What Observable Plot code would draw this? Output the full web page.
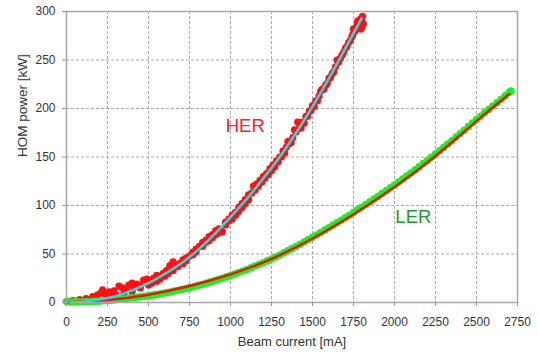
<!DOCTYPE html>
<html>
<head>
<meta charset="utf-8">
<script src="https://cdn.jsdelivr.net/npm/d3@7"></script>
<script src="https://cdn.jsdelivr.net/npm/@observablehq/plot@0.6"></script>
<style>
  html, body { margin: 0; padding: 0; background: #fff; }
  #chart svg { display: block; }
</style>
</head>
<body>
<div id="chart"></div>
<script>
// ---- Data ----
const xTicks = [0, 250, 500, 750, 1000, 1250, 1500, 1750, 2000, 2250, 2500, 2750];
const yTicks = [0, 50, 100, 150, 200, 250, 300];

// HER measured points (beam current mA, HOM power kW)
const herI = [20,40,60,80,100,120,140,160,170,190,210,220,240,260,270,290,300,320,340,360,380,400,410,430,450,470,490,510,530,550,570,590,610,630,650,670,690,710,730,750,770,790,810,830,850,870,890,910,930,950,970,990,1010,1030,1050,1070,1090,1110,1130,1140,1150,1160,1180,1200,1220,1240,1250,1260,1280,1300,1320,1340,1350,1360,1380,1390,1400,1410,1420,1440,1450,1460,1480,1500,1520,1540,1550,1560,1580,1600,1620,1640,1650,1660,1680,1700,1720,1740,1750,1760,1770,1780,1790,1795,1800,1805,1810,
  300,350,400,450,500,520,550,570,600,620,650,680,710,730,770,790,830,850,870,890,910,930,970,990,1010,1030,1050,1070,1090,1110,1170,1190,1210,1230,1270,1290,1310,1330,1370,1430,1470,1490,1510,1530,1570,1590,1610,1630,1670,1690,1710,1730,1745,1775,1785,1800];
const herP = [1,2,1,3,2,4,3,6,4,8,10,13,7,11,9,12,8,17,15,14,18,20,16,19,17,23,24,22,25,28,27,30,33,38,42,39,40,44,46,48,52,55,58,62,64,68,70,74,76,73,83,86,90,93,98,102,106,111,113,120,116,122,126,130,133,138,136,142,146,150,156,160,166,164,170,178,176,186,180,186,185,192,197,203,208,213,218,220,224,231,236,243,250,248,255,262,268,274,282,280,285,288,292,282,290,295,287,
  5,9,11,15,18,20,22,24,27,30,33,37,40,43,49,52,58,62,64,67,70,72,80,84,86,90,94,98,102,106,120,124,128,132,140,145,150,154,165,180,192,198,202,208,220,226,232,238,252,258,264,270,276,290,284,284];
const herFitI = [25,100,200,300,400,500,600,700,800,900,1000,1100,1200,1300,1400,1500,1600,1700,1800];
const herFitP = [0,0.8,3,6.5,12.5,20,29.5,40.5,54,70,88,107,128,150,175,202,231,262,293];

// LER measured points
const lerI = [0,25,50,75,100,125,150,175,200,225,250,275,300,325,350,375,400,425,450,475,500,525,550,575,600,625,650,675,700,725,750,775,800,825,850,875,900,925,950,975,1000,1025,1050,1075,1100,1125,1150,1175,1200,1225,1250,1275,1300,1325,1350,1375,1400,1425,1450,1475,1500,1525,1550,1575,1600,1625,1650,1675,1700,1725,1750,1775,1800,1825,1850,1875,1900,1925,1950,1975,2000,2025,2050,2075,2100,2125,2150,2175,2200,2225,2250,2275,2300,2325,2350,2375,2400,2425,2450,2475,2500,2525,2550,2575,2600,2625,2650,2675,2700,2710];
const lerP = [1,0.5,0.6,0.5,0.8,0.7,1.0,1.2,1.3,1.8,2.0,2.4,2.8,3.3,3.6,4.4,4.8,5.3,5.8,6.5,6.8,7.6,8.2,9.0,9.8,10.5,11.6,12.3,13.4,14.2,15.3,16.3,17.6,18.5,19.9,21.0,22.3,23.6,25.0,26.4,27.8,29.3,30.8,32.4,34.0,35.7,37.6,39.2,41.0,42.9,44.8,46.9,49.0,51.2,53.3,55.5,57.8,60.1,62.4,64.9,67.2,69.6,72.2,74.6,77.1,79.6,82.2,84.8,87.3,90.0,92.8,95.5,98.2,101.0,103.8,106.7,109.4,112.4,115.3,118.2,121.0,124.1,127.3,130.4,133.5,136.6,139.9,143.2,146.4,149.7,153.0,156.5,159.9,163.4,166.8,170.5,174.0,177.6,181.3,185.0,188.6,192.0,195.5,198.9,202.6,206.0,209.6,213.0,216.5,218];
const lerFitI = [0,250,500,750,1000,1250,1500,1750,2000,2250,2500,2700];
const lerFitP = [0,2.5,8,17,29,45,66,91,119,151,187,215];

const seriesNames = ["HER", "LER"];
const labelI = [1090, 2115];
const labelP = [182, 88];

// ---- Tables for the library ----
const her = herI.map((v, i) => ({I: v, P: herP[i]}));
const herFit = herFitI.map((v, i) => ({I: v, P: herFitP[i]}));
const ler = lerI.map((v, i) => ({I: v, P: lerP[i]}));
const lerFit = lerFitI.map((v, i) => ({I: v, P: lerFitP[i]}));
const labels = seriesNames.map((n, i) => ({name: n, I: labelI[i], P: labelP[i]}));

const font = "'Liberation Sans', Arial, sans-serif";
const gridStyle = {stroke: "#aaaaaa", strokeOpacity: 1, strokeDasharray: "3,2", strokeWidth: 1};

const chart = Plot.plot({
  width: 539,
  height: 355,
  marginLeft: 66,
  marginRight: 22,
  marginTop: 11,
  marginBottom: 53,
  style: {fontFamily: font, fontSize: "12px", background: "#fff", color: "#333"},
  x: {domain: [0, 2750]},
  y: {domain: [0, 300]},
  marks: [
    Plot.gridX(xTicks.slice(1, -1), gridStyle),
    Plot.gridY(yTicks.slice(1, -1), gridStyle),
    Plot.dot(her, {x: "I", y: "P", r: 3.6, fill: "#ff1010", stroke: "none"}),
    Plot.dot(ler, {x: "I", y: "P", r: 3.8, fill: "#22ee22", stroke: "none"}),
    Plot.line(lerFit, {x: "I", y: "P", stroke: "#e8141a", strokeWidth: 2.5, curve: "natural"}),
    Plot.line(herFit, {x: "I", y: "P", stroke: "#2ad8e6", strokeWidth: 2.6, curve: "natural"}),
    Plot.frame({stroke: "#a8a8a8", strokeWidth: 1.5}),
    Plot.axisX(xTicks, {tickSize: 4, tickPadding: 11, fontSize: 12, stroke: "#999", fill: "#333", label: null, tickFormat: d3.format("d")}),
    Plot.axisY(yTicks, {tickSize: 4, tickPadding: 7, fontSize: 12, stroke: "#999", fill: "#333", label: null, tickFormat: d3.format("d")}),
    Plot.text(["Beam current [mA]"], {frameAnchor: "bottom", dy: 43, fontSize: 13, fill: "#333", text: d => d}),
    Plot.text(["HOM power [kW]"], {frameAnchor: "left", rotate: -90, dx: -44, fontSize: 13.5, fill: "#333", text: d => d}),
    Plot.text(labels, {x: "I", y: "P", text: "name", fontSize: 18.5,
      fill: d => d.name === "HER" ? "#ff2020" : "#1e9a2a"})
  ]
});
document.getElementById("chart").appendChild(chart);
</script>
</body>
</html>
